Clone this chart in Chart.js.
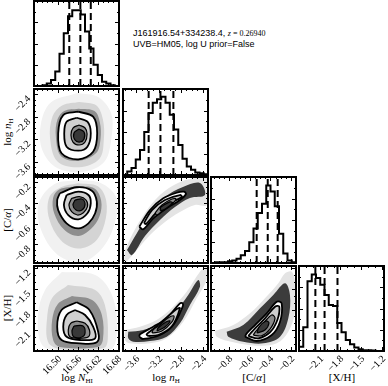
<!DOCTYPE html>
<html>
<head>
<meta charset="utf-8">
<script src="https://cdn.jsdelivr.net/npm/chart.js@4.4.1/dist/chart.umd.min.js"></script>
<style>
  html, body { margin: 0; padding: 0; background: #fff; }
  #fig { position: relative; width: 388px; height: 386px; overflow: hidden; }
  #fig canvas { position: absolute; }
  .title { position: absolute; left: 133px; top: 28px; font: 9px 'Liberation Sans', sans-serif; line-height: 10.5px; white-space: nowrap; }
  .title .m { font: 8px 'Liberation Serif', serif; }
  .axt { position: absolute; font: 11px 'Liberation Serif', serif; white-space: nowrap; line-height: 12px; }
  .axt sub { font-size: 7px; vertical-align: -2px; line-height: 0; }
  .xt { top: 371px; transform: translateX(-50%); }
  .yt { transform: translate(-50%, -50%) rotate(-90deg); }
  .tk { position: absolute; font: 10px 'Liberation Serif', serif; line-height: 10px; white-space: nowrap;
        transform-origin: 100% 50%; transform: translate(-100%, -50%) rotate(-45deg); }
</style>
</head>
<body>
<div id="fig">
  <div class="title">J161916.54+334238.4, <span class="m"><i>z</i> = 0.26940</span><br>UVB=HM05, log U prior=False</div>
  <div class="axt xt" style="left:77px">log <i>N</i><sub>HI</sub></div>
  <div class="axt xt" style="left:166px">log <i>n</i><sub>H</sub></div>
  <div class="axt xt" style="left:254px">[C/<i>α</i>]</div>
  <div class="axt xt" style="left:342px">[X/H]</div>
  <div class="axt yt" style="left:7px;top:132px">log <i>n</i><sub>H</sub></div>
  <div class="axt yt" style="left:7px;top:220px">[C/<i>α</i>]</div>
  <div class="axt yt" style="left:7px;top:308px">[X/H]</div>
</div>
<script>
// tick labels
const nhiTicks = [16.50, 16.56, 16.62, 16.68];
const nhTicks = [-3.6, -3.2, -2.8, -2.4];
const caTicks = [-0.8, -0.6, -0.4, -0.2];
const xhTicks = [-2.1, -1.8, -1.5, -1.2];

// 1D posteriors, 20 bins across each axis, height as fraction of the panel
const nhiHist = [0, 0, 0.01, 0.03, 0.07, 0.17, 0.38, 0.62, 0.82, 0.89, 0.89, 0.84, 0.64, 0.44, 0.25, 0.13, 0.05, 0.03, 0.01, 0];
const nhHist = [0, 0.04, 0.08, 0.18, 0.29, 0.5, 0.72, 0.84, 0.88, 0.91, 0.84, 0.7, 0.53, 0.35, 0.19, 0.1, 0.06, 0.03, 0.02, 0.01];
const caHist = [0, 0.01, 0.01, 0.01, 0.02, 0.03, 0.05, 0.09, 0.14, 0.24, 0.4, 0.58, 0.69, 0.9, 0.83, 0.66, 0.34, 0.11, 0.03, 0.01];
const xhHist = [0.05, 0.28, 0.82, 0.9, 0.86, 0.78, 0.66, 0.54, 0.53, 0.33, 0.22, 0.13, 0.08, 0.04, 0.02, 0.01, 0.01, 0.005, 0, 0];

// 16/50/84 percentiles
const nhiQuant = [16.535, 16.568, 16.599];
const nhQuant = [-3.378, -3.166, -2.933];
const caQuant = [-0.534, -0.426, -0.329];
const xhQuant = [-2.163, -2.03, -1.843];

// 2D panels: sample cloud (outer to inner), then contour levels (outer to inner)
const nhVsNhiHalo = [
  [[16.56, -2.38], [16.62, -2.45], [16.66, -2.75], [16.66, -3.2], [16.64, -3.6], [16.58, -3.78], [16.50, -3.72], [16.455, -3.4], [16.45, -2.95], [16.48, -2.55]],
  [[16.565, -2.54], [16.615, -2.6], [16.635, -2.85], [16.638, -3.2], [16.625, -3.55], [16.565, -3.7], [16.5, -3.6], [16.478, -3.2], [16.485, -2.8], [16.515, -2.6]],
  [[16.563, -2.66], [16.61, -2.7], [16.626, -2.9], [16.628, -3.2], [16.615, -3.45], [16.563, -3.59], [16.51, -3.5], [16.495, -3.15], [16.5, -2.85], [16.52, -2.7]],
];
const nhVsNhiLevels = [
  [[16.562, -2.714], [16.606, -2.803], [16.618, -3.098], [16.606, -3.426], [16.562, -3.561], [16.512, -3.454], [16.502, -3.098], [16.517, -2.773]],
  [[16.557, -2.821], [16.589, -2.892], [16.599, -3.098], [16.589, -3.337], [16.562, -3.408], [16.527, -3.337], [16.52, -3.098], [16.527, -2.892]],
  [[16.564, -2.951], [16.582, -3.004], [16.588, -3.111], [16.582, -3.253], [16.564, -3.306], [16.546, -3.253], [16.54, -3.129], [16.546, -3.004]],
  [[16.564, -3.022], [16.579, -3.075], [16.579, -3.2], [16.567, -3.253], [16.552, -3.218], [16.549, -3.093]],
];

const caVsNhiHalo = [
  [[16.56, -0.18], [16.63, -0.21], [16.675, -0.35], [16.67, -0.6], [16.63, -0.85], [16.57, -0.97], [16.5, -0.9], [16.45, -0.65], [16.445, -0.4], [16.49, -0.22]],
  [[16.56, -0.21], [16.62, -0.24], [16.645, -0.38], [16.64, -0.6], [16.61, -0.78], [16.56, -0.84], [16.51, -0.76], [16.475, -0.55], [16.475, -0.35], [16.51, -0.25]],
  [[16.56, -0.237], [16.61, -0.26], [16.63, -0.38], [16.625, -0.53], [16.6, -0.65], [16.562, -0.72], [16.52, -0.66], [16.49, -0.5], [16.487, -0.35], [16.505, -0.27]],
];
const caVsNhiLevels = [
  [[16.507, -0.307], [16.557, -0.249], [16.602, -0.282], [16.617, -0.388], [16.612, -0.5], [16.592, -0.597], [16.562, -0.645], [16.527, -0.597], [16.502, -0.469], [16.499, -0.372]],
  [[16.527, -0.324], [16.562, -0.292], [16.592, -0.324], [16.599, -0.404], [16.589, -0.5], [16.562, -0.558], [16.532, -0.517], [16.519, -0.42]],
  [[16.542, -0.356], [16.565, -0.34], [16.585, -0.372], [16.589, -0.437], [16.577, -0.495], [16.559, -0.517], [16.542, -0.485], [16.534, -0.42]],
  [[16.552, -0.372], [16.573, -0.362], [16.582, -0.411], [16.573, -0.469], [16.555, -0.469], [16.546, -0.42]],
];

const caVsNhHalo = [
  [[-3.804, -0.855], [-3.66, -0.691], [-3.444, -0.497], [-3.175, -0.324], [-2.851, -0.208], [-2.545, -0.16], [-2.329, -0.16],
   [-2.329, -0.42], [-2.545, -0.42], [-2.815, -0.488], [-3.085, -0.584], [-3.354, -0.71], [-3.624, -0.874], [-3.804, -0.97]],
  [[-3.768, -0.855], [-3.588, -0.691], [-3.354, -0.488], [-3.085, -0.343], [-2.761, -0.247], [-2.455, -0.208],
   [-2.365, -0.324], [-2.635, -0.353], [-2.905, -0.44], [-3.175, -0.565], [-3.444, -0.719], [-3.678, -0.903]],
];
const caVsNhLevels = [
  [[-3.547, -0.63], [-3.354, -0.469], [-3.115, -0.356], [-2.874, -0.302], [-2.743, -0.292], [-2.707, -0.314], [-2.815, -0.372], [-3.054, -0.452], [-3.295, -0.549], [-3.475, -0.655]],
  [[-3.462, -0.594], [-3.318, -0.469], [-3.085, -0.372], [-2.815, -0.324], [-2.779, -0.343], [-3.031, -0.411], [-3.264, -0.507], [-3.426, -0.604]],
  [[-3.264, -0.497], [-3.139, -0.42], [-2.959, -0.362], [-2.887, -0.362], [-2.959, -0.411], [-3.121, -0.469], [-3.228, -0.517]],
  [[-3.16, -0.44], [-3.0, -0.39], [-2.95, -0.4], [-3.08, -0.46], [-3.17, -0.47]],
];

const xhVsNhiHalo = [
  [[16.513, -1.257], [16.612, -1.3], [16.662, -1.59], [16.677, -2.096], [16.656, -2.386], [16.507, -2.386], [16.454, -2.313], [16.442, -1.879], [16.463, -1.517]],
  [[16.531, -1.445], [16.612, -1.517], [16.641, -1.734], [16.65, -2.169], [16.638, -2.357], [16.507, -2.371], [16.472, -2.27], [16.469, -1.923], [16.484, -1.633]],
  [[16.543, -1.604], [16.603, -1.662], [16.632, -1.879], [16.635, -2.241], [16.62, -2.342], [16.507, -2.342], [16.487, -2.241], [16.484, -1.951], [16.501, -1.72]],
];
const xhVsNhiLevels = [
  [[16.557, -1.695], [16.512, -1.807], [16.499, -2.048], [16.512, -2.241], [16.567, -2.289], [16.617, -2.274], [16.621, -2.121], [16.595, -1.807]],
  [[16.552, -1.807], [16.582, -1.879], [16.606, -2.048], [16.612, -2.216], [16.567, -2.241], [16.527, -2.193], [16.517, -2.048], [16.527, -1.879]],
  [[16.557, -1.966], [16.582, -1.999], [16.595, -2.096], [16.592, -2.193], [16.562, -2.216], [16.537, -2.193], [16.532, -2.096], [16.539, -1.999]],
  [[16.549, -2.038], [16.576, -2.038], [16.582, -2.14], [16.573, -2.197], [16.549, -2.197], [16.543, -2.111]],
];

const xhVsNhHalo = [
  [[-3.804, -2.096], [-3.534, -2.048], [-3.234, -1.951], [-2.964, -1.782], [-2.694, -1.542], [-2.455, -1.252], [-2.335, -1.18],
   [-2.335, -1.373], [-2.514, -1.637], [-2.755, -1.976], [-3.054, -2.216], [-3.354, -2.289], [-3.714, -2.289], [-3.804, -2.241]],
  [[-3.745, -2.121], [-3.475, -2.096], [-3.175, -1.999], [-2.874, -1.807], [-2.666, -1.59], [-2.486, -1.373],
   [-2.455, -1.47], [-2.635, -1.734], [-2.815, -1.999], [-3.054, -2.193], [-3.354, -2.255], [-3.655, -2.265], [-3.745, -2.216]],
];
const xhVsNhLevels = [
  [[-3.547, -2.193], [-3.475, -2.226], [-3.175, -2.169], [-2.935, -2.024], [-2.766, -1.759], [-2.766, -1.71], [-2.815, -1.71], [-3.054, -1.927], [-3.295, -2.048], [-3.534, -2.159]],
  [[-3.385, -2.183], [-3.205, -2.169], [-2.964, -2.048], [-2.815, -1.782], [-2.874, -1.792], [-3.085, -1.937], [-3.295, -2.082], [-3.414, -2.159]],
  [[-3.318, -2.14], [-3.139, -2.111], [-2.959, -1.98], [-2.923, -1.894], [-3.031, -1.923], [-3.175, -2.024], [-3.3, -2.096]],
  [[-3.228, -2.111], [-3.085, -2.053], [-2.995, -1.966], [-3.067, -1.98], [-3.21, -2.067]],
];

const xhVsCaHalo = [
  [[-0.941, -2.111], [-0.762, -2.024], [-0.599, -1.855], [-0.453, -1.637], [-0.323, -1.42], [-0.257, -1.276], [-0.192, -1.252],
   [-0.16, -1.397], [-0.16, -1.831], [-0.225, -2.121], [-0.338, -2.289], [-0.534, -2.323], [-0.762, -2.274], [-0.924, -2.193]],
  [[-0.827, -2.121], [-0.665, -2.024], [-0.501, -1.782], [-0.372, -1.59], [-0.257, -1.42], [-0.209, -1.59],
   [-0.225, -1.927], [-0.306, -2.193], [-0.469, -2.289], [-0.665, -2.265], [-0.811, -2.193]],
];
const xhVsCaLevels = [
  [[-0.648, -2.193], [-0.534, -2.255], [-0.387, -2.169], [-0.306, -1.976], [-0.29, -1.71], [-0.338, -1.687], [-0.436, -1.855], [-0.55, -2.024], [-0.631, -2.144]],
  [[-0.616, -2.183], [-0.518, -2.216], [-0.404, -2.129], [-0.332, -1.951], [-0.313, -1.759], [-0.355, -1.759], [-0.453, -1.927], [-0.55, -2.072], [-0.599, -2.154]],
  [[-0.567, -2.169], [-0.485, -2.179], [-0.404, -2.082], [-0.355, -1.927], [-0.387, -1.879], [-0.469, -1.999], [-0.541, -2.111]],
  [[-0.531, -2.14], [-0.453, -2.096], [-0.414, -1.995], [-0.443, -1.966], [-0.511, -2.053]],
];

// axes (one per parameter) and panel layout
const params = [
  {min: 16.43, max: 16.683, ticks: nhiTicks, minor: 0.015, dp: 2, hist: nhiHist, quant: nhiQuant},
  {min: -3.84, max: -2.31, ticks: nhTicks, minor: 0.1, dp: 1, hist: nhHist, quant: nhQuant},
  {min: -0.98, max: -0.15, ticks: caTicks, minor: 0.05, dp: 1, hist: caHist, quant: caQuant},
  {min: -2.4, max: -1.17, ticks: xhTicks, minor: 0.1, dp: 1, hist: xhHist, quant: xhQuant},
];
const histAxis = {min: 0, max: 1, ticks: [0.25, 0.5, 0.75], minor: 0.125, dp: 2};
const pairs = {
  '1,0': [nhVsNhiHalo, nhVsNhiLevels],
  '2,0': [caVsNhiHalo, caVsNhiLevels],
  '2,1': [caVsNhHalo, caVsNhLevels],
  '3,0': [xhVsNhiHalo, xhVsNhiLevels],
  '3,1': [xhVsNhHalo, xhVsNhLevels],
  '3,2': [xhVsCaHalo, xhVsCaLevels],
};

const cols = [[34, 119], [123, 208], [211, 296], [299, 384]];
const rows = [[1, 86], [89, 175], [177, 263], [266, 351]];
const haloShades = {2: ['#e4e4e4', '#3c3c3c'], 3: ['#f1f1f1', '#d4d4d4', '#8e8e8e']};
const levelFills = ['#ffffff', '#d0d0d0', '#8c8c8c', '#383838'];
const fig = document.getElementById('fig');

const fmt = (dp) => (v) => Number(v).toFixed(dp).replace('-', '\u2212');
const closed = (pts) => [...pts, pts[0]].map(([x, y]) => ({x, y}));

// fill closed outlines using the line element's own path
const shapeFill = {
  id: 'shapeFill',
  beforeDatasetDraw(chart, args) {
    const ds = chart.data.datasets[args.index];
    if (!ds.shapeColor) return;
    const line = args.meta.dataset;
    const {ctx, chartArea: a} = chart;
    line.updateControlPoints(a, 'x');
    ctx.save();
    ctx.beginPath();
    ctx.rect(a.left, a.top, a.right - a.left, a.bottom - a.top);
    ctx.clip();
    ctx.beginPath();
    line.path(ctx);
    ctx.closePath();
    ctx.fillStyle = ds.shapeColor;
    ctx.fill();
    ctx.restore();
  },
};

// inward ticks on all four sides + heavy frame
const frameTicks = {
  id: 'frameTicks',
  afterDatasetsDraw(chart, args, opts) {
    const {ctx, chartArea: a} = chart;
    ctx.save();
    ctx.strokeStyle = '#000';
    ctx.lineWidth = 1;
    ctx.beginPath();
    ['x', 'y'].forEach((id) => {
      const s = chart.scales[id];
      const minor = opts[id + 'Minor'];
      const majors = s.ticks.map((t) => t.value);
      const marks = majors.map((v) => [v, 4]);
      for (let v = Math.ceil(s.min / minor - 1e-6) * minor; v <= s.max; v += minor) {
        if (!majors.some((m) => Math.abs(m - v) < minor / 4)) marks.push([v, 2]);
      }
      marks.forEach(([v, len]) => {
        const p = Math.round(s.getPixelForValue(v)) + 0.5;
        if (id === 'x') {
          ctx.moveTo(p, a.bottom); ctx.lineTo(p, a.bottom - len);
          ctx.moveTo(p, a.top); ctx.lineTo(p, a.top + len);
        } else {
          ctx.moveTo(a.left, p); ctx.lineTo(a.left + len, p);
          ctx.moveTo(a.right, p); ctx.lineTo(a.right - len, p);
        }
      });
    });
    ctx.stroke();
    ctx.lineWidth = 2;
    ctx.strokeRect(a.left, a.top, a.right - a.left, a.bottom - a.top);
    ctx.restore();
  },
};

// rotated tick labels, right end anchored at the scale's tick pixel
const tickLabel = (x, y, text) => {
  const el = document.createElement('div');
  el.className = 'tk';
  el.style.left = x + 'px';
  el.style.top = y + 'px';
  el.textContent = text;
  fig.appendChild(el);
};

const makeScale = (p, axis, size) => ({
  type: 'linear',
  min: p.min,
  max: p.max,
  grid: {display: false},
  border: {display: false},
  ticks: {display: false},
  afterBuildTicks: (s) => { s.ticks = p.ticks.map((value) => ({value})); },
  afterFit: (s) => { if (axis === 'x') s.height = size; else s.width = size; },
});

const histDatasets = (p) => {
  const w = (p.max - p.min) / p.hist.length;
  const pts = [{x: p.min, y: 0}];
  p.hist.forEach((h, i) => pts.push({x: p.min + i * w, y: h}));
  pts.push({x: p.max, y: 0});
  const sets = [{
    type: 'line', data: pts, stepped: true, borderColor: '#000', borderWidth: 2,
    pointRadius: 0, fill: false, order: 1,
  }];
  p.quant.forEach((q) => sets.push({
    type: 'line', data: [{x: q, y: 0}, {x: q, y: 1}], borderColor: '#000', borderWidth: 2,
    borderDash: [7, 4], pointRadius: 0, fill: false, order: 0,
  }));
  return sets;
};

const pairDatasets = ([halo, levels]) => {
  const shades = haloShades[halo.length];
  const sets = halo.map((pts, i) => ({
    type: 'line', data: closed(pts), shapeColor: shades[i], borderColor: 'rgba(0,0,0,0)',
    borderWidth: 1, pointRadius: 0, tension: 0.35, fill: false, order: 30 - i,
  }));
  levels.forEach((pts, i) => sets.push({
    type: 'line', data: closed(pts), shapeColor: levelFills[i], borderColor: '#000',
    borderWidth: i < 2 ? 1.8 : 1.2, pointRadius: 0, tension: 0.35, fill: false, order: 20 - i,
  }));
  return sets;
};

const addPanel = (r, c) => {
  const [x0, x1] = cols[c];
  const [y0, y1] = rows[r];
  const yAxisW = c === 0 ? 34 : 0;
  const xAxisH = r === 3 ? 35 : 0;
  const padL = c === 0 ? 0 : 1;
  const left = x0 - yAxisW - padL;
  const top = y0 - 1;
  const width = x1 - left + 1;
  const height = (r === 3 ? 386 : y1 + 1) - top;

  const canvas = document.createElement('canvas');
  canvas.width = width;
  canvas.height = height;
  canvas.style.left = left + 'px';
  canvas.style.top = top + 'px';
  canvas.style.width = width + 'px';
  canvas.style.height = height + 'px';
  fig.appendChild(canvas);

  const px = params[c];
  const py = r === c ? histAxis : params[r];
  const datasets = r === c ? histDatasets(px) : pairDatasets(pairs[r + ',' + c]);

  const chart = new Chart(canvas, {
    type: 'scatter',
    data: {datasets},
    options: {
      responsive: false,
      animation: false,
      events: [],
      layout: {padding: {left: padL, right: 1, top: 1, bottom: r === 3 ? 0 : 1}},
      plugins: {
        legend: {display: false},
        tooltip: {enabled: false},
        frameTicks: {xMinor: px.minor, yMinor: py.minor},
      },
      scales: {
        x: makeScale(px, 'x', xAxisH),
        y: makeScale(py, 'y', yAxisW),
      },
    },
    plugins: [shapeFill, frameTicks],
  });

  const a = chart.chartArea;
  if (r === 3) {
    const s = chart.scales.x;
    s.ticks.forEach((t) => tickLabel(left + s.getPixelForValue(t.value) + 2, top + a.bottom + 6, fmt(px.dp)(t.value)));
  }
  if (c === 0 && r !== 0) {
    const s = chart.scales.y;
    s.ticks.forEach((t) => tickLabel(left + a.left - 5, top + s.getPixelForValue(t.value) + 3, fmt(py.dp)(t.value)));
  }
};

for (let r = 0; r < 4; r++) {
  for (let c = 0; c <= r; c++) addPanel(r, c);
}
</script>
</body>
</html>
